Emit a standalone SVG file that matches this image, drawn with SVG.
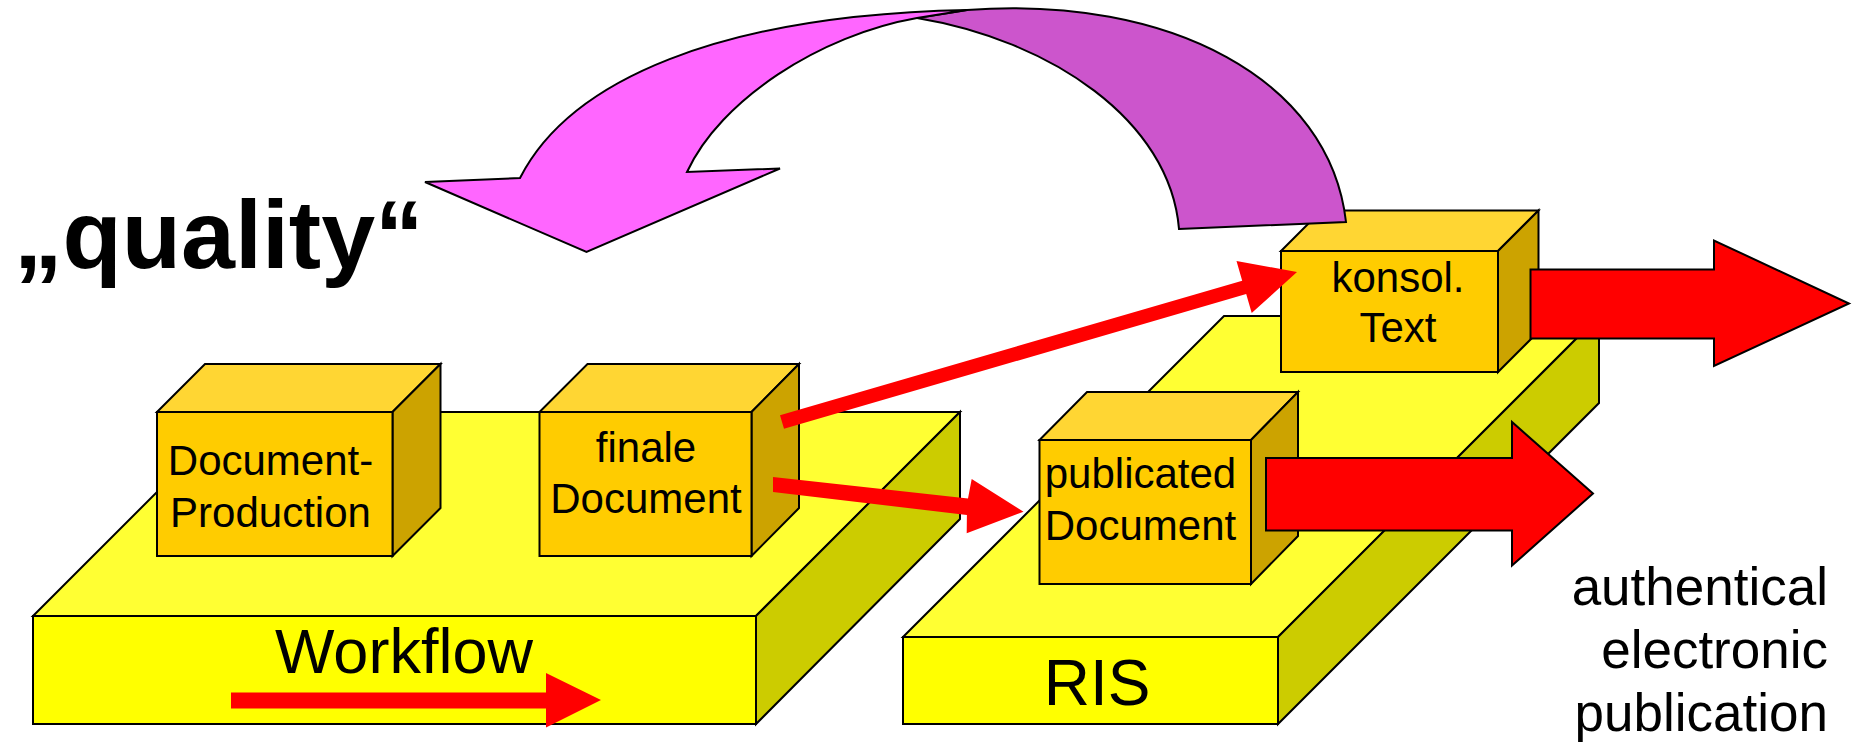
<svg xmlns="http://www.w3.org/2000/svg" width="1854" height="745" viewBox="0 0 1854 745">
<style>
.e{stroke:#000;stroke-width:2;stroke-linejoin:miter}
.cf{fill:#FFCC00}.ct{fill:#FFD633}.cs{fill:#CCA300}
.pf{fill:#FFFF00}.pt{fill:#FFFF33}.ps{fill:#CCCC00}
.t{font-family:"Liberation Sans",Arial,sans-serif;fill:#000}
.ct42{font-size:42px;text-anchor:middle}
.red{fill:#FF0000}
.pink{fill:#FF66FF}.dark{fill:#CC55CC}
</style>
<rect width="1854" height="745" fill="#fff"/>

<g id="workflow">
  <polygon class="e pt" points="33,616 237,412 960,412 756,616"/>
  <polygon class="e ps" points="756,616 960,412 960,519 756,724"/>
  <rect class="e pf" x="33" y="616" width="723" height="108"/>
  <text class="t" x="404" y="673" font-size="63" text-anchor="middle">Workflow</text>
  <polygon class="red" points="231,692.5 546,692.5 546,673 601,700 546,727.5 546,708.5 231,708.5"/>
</g>

<g id="ris">
  <polygon class="e pt" points="903,637 1224,316 1599,316 1278,637"/>
  <polygon class="e ps" points="1278,637 1599,316 1599,403 1278,724"/>
  <rect class="e pf" x="903" y="637" width="375" height="87"/>
  <text class="t" x="1097" y="705" font-size="64" text-anchor="middle">RIS</text>
</g>

<g id="document-production">
  <polygon class="e ct" points="157,412 205,364 440.5,364 392.5,412"/>
  <polygon class="e cs" points="392.5,412 440.5,364 440.5,508 392.5,556"/>
  <rect class="e cf" x="157" y="412" width="235.5" height="144"/>
  <text class="t ct42" x="270.5" y="475">Document-</text>
  <text class="t ct42" x="270.5" y="527">Production</text>
</g>

<g id="finale-document">
  <polygon class="e ct" points="539.5,412 587.5,364 799,364 751.5,412"/>
  <polygon class="e cs" points="751.5,412 799,364 799,508 751.5,556"/>
  <rect class="e cf" x="539.5" y="412" width="212" height="144"/>
  <text class="t ct42" x="646" y="462">finale</text>
  <text class="t ct42" x="646" y="513">Document</text>
</g>

<g id="publicated-document">
  <polygon class="e ct" points="1039.5,440 1087,392 1298,392 1251,440"/>
  <polygon class="e cs" points="1251,440 1298,392 1298,536 1251,584"/>
  <rect class="e cf" x="1039.5" y="440" width="211.5" height="144"/>
  <text class="t ct42" x="1140.5" y="488">publicated</text>
  <text class="t ct42" x="1140.5" y="540">Document</text>
</g>

<g id="konsol-text">
  <polygon class="e ct" points="1281,251 1321.5,210.5 1538.5,210.5 1498,251"/>
  <polygon class="e cs" points="1498,251 1538.5,210.5 1538.5,331.5 1498,372"/>
  <rect class="e cf" x="1281" y="251" width="217" height="121"/>
  <text class="t ct42" x="1398" y="292">konsol.</text>
  <text class="t ct42" x="1398" y="342">Text</text>
</g>

<g id="connectors">
  <polygon class="e red" points="1530.5,269.5 1714,269.5 1714,240.5 1849,303.5 1714,366 1714,338.5 1530.5,338.5"/>
  <polygon class="e red" points="1266,458 1512,458 1512,422 1593,493.5 1512,565.5 1512,530.5 1266,530.5"/>
  <polygon class="red" points="780,415.3 1242.2,280.7 1236.5,261 1297,272 1251.7,313 1246.2,294.1 784,428.7"/>
  <polygon class="red" points="773,477 968,498.5 971.7,479 1023.5,511.7 966.7,533.3 966.9,515 773,492"/>
</g>

<g id="quality-arrow">
  <path class="e dark" d="M1179,229 L1346,222 C1330,80 1170,-5 967,10 L917,18 C1050,40 1170,120 1179,229 Z"/>
  <path class="e pink" d="M967,10 C720,15 570,80 520,178 L425,182 L586.5,252 L780,168.5 L687,172 C720,100 820,35 917,18 L967,10 Z"/>
</g>

<text class="t" x="14" y="268" font-size="97" font-weight="bold">„quality“</text>

<g class="t" font-size="53" text-anchor="end">
  <text x="1828" y="605">authentical</text>
  <text x="1828" y="668">electronic</text>
  <text x="1828" y="731">publication</text>
</g>
</svg>
